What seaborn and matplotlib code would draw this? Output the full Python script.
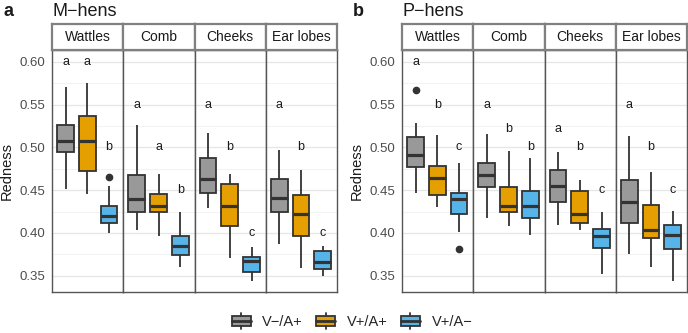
import seaborn as sns
import pandas as pd
import matplotlib.pyplot as plt
import numpy as np
from matplotlib.patches import Rectangle
from matplotlib.lines import Line2D
from matplotlib.legend_handler import HandlerBase
from matplotlib.ticker import MultipleLocator


sns.set_theme(style='white', rc={'axes.edgecolor': '#555555'})
plt.rcParams['font.family'] = ['Liberation Sans', 'DejaVu Sans']


groups = ['V\u2212/A+', 'V+/A+', 'V+/A\u2212']
colors = ['#999999', '#E69F00', '#56B4E9']
regions = ['Wattles', 'Comb', 'Cheeks', 'Ear lobes']
panels = ['M\u2212hens', 'P\u2212hens']

# five-number summaries, per panel -> region -> group
# order inside each list: Wattles x3, Comb x3, Cheeks x3, Ear lobes x3
m_lo  = [0.451, 0.445, 0.400, 0.403, 0.397, 0.360, 0.429, 0.371, 0.344, 0.387, 0.359, 0.350]
m_q1  = [0.495, 0.472, 0.412, 0.424, 0.424, 0.374, 0.447, 0.408, 0.354, 0.424, 0.396, 0.358]
m_med = [0.507, 0.507, 0.420, 0.440, 0.431, 0.385, 0.463, 0.431, 0.367, 0.441, 0.422, 0.366]
m_q3  = [0.526, 0.537, 0.432, 0.468, 0.445, 0.396, 0.488, 0.457, 0.372, 0.463, 0.444, 0.379]
m_hi  = [0.570, 0.575, 0.455, 0.526, 0.469, 0.424, 0.517, 0.469, 0.384, 0.497, 0.473, 0.385]

p_lo  = [0.447, 0.430, 0.401, 0.417, 0.408, 0.398, 0.409, 0.404, 0.352, 0.375, 0.360, 0.344]
p_q1  = [0.477, 0.444, 0.4225, 0.454, 0.424, 0.417, 0.436, 0.412, 0.382, 0.412, 0.394, 0.381]
p_med = [0.491, 0.464, 0.440, 0.468, 0.432, 0.431, 0.455, 0.422, 0.397, 0.436, 0.403, 0.398]
p_q3  = [0.512, 0.478, 0.447, 0.482, 0.454, 0.449, 0.474, 0.449, 0.405, 0.462, 0.433, 0.409]
p_hi  = [0.528, 0.514, 0.482, 0.515, 0.496, 0.488, 0.495, 0.462, 0.425, 0.513, 0.471, 0.426]

# outliers: (panel, region index, group index, value)
outliers = [(0, 0, 2, 0.465), (1, 0, 0, 0.567), (1, 0, 2, 0.381)]

# significance letters and their heights
m_letters = ['a', 'a', 'b', 'a', 'a', 'b', 'a', 'b', 'c', 'a', 'b', 'c']
m_let_y   = [0.60, 0.60, 0.50, 0.55, 0.50, 0.45, 0.55, 0.50, 0.40, 0.55, 0.50, 0.40]
p_letters = ['a', 'b', 'c', 'a', 'b', 'b', 'a', 'b', 'c', 'a', 'b', 'c']
p_let_y   = [0.60, 0.55, 0.50, 0.55, 0.521, 0.50, 0.521, 0.50, 0.45, 0.55, 0.50, 0.45]

summaries = [(m_lo, m_q1, m_med, m_q3, m_hi), (p_lo, p_q1, p_med, p_q3, p_hi)]
letters = [(m_letters, m_let_y), (p_letters, p_let_y)]

# build rows so that seaborn's quartiles reproduce the summaries
rows = []
for pi, summ in enumerate(summaries):
    lo, q1, med, q3, hi = summ
    for k in range(12):
        ri, gi = divmod(k, 3)
        vals = [lo[k], q1[k], q1[k], med[k], med[k], q3[k], q3[k], hi[k]]
        vals += [o[3] for o in outliers if o[0] == pi and o[1] == ri and o[2] == gi]
        for v in vals:
            rows.append({'panel': panels[pi], 'region': regions[ri], 'group': groups[gi], 'Redness': v})
data = pd.DataFrame(rows)


class BoxHandler(HandlerBase):
    def create_artists(self, legend, orig_handle, xdescent, ydescent, width, height, fontsize, trans):
        fc = orig_handle.get_facecolor()
        cx = width / 2 - xdescent
        y0 = -ydescent
        box = Rectangle((-xdescent, y0 + height * 0.12), width, height * 0.76, facecolor=fc,
                        edgecolor='#333333', lw=1.3, transform=trans)
        med = Line2D([-xdescent, width - xdescent], [y0 + height / 2] * 2, color='#333333', lw=2, transform=trans)
        w1 = Line2D([cx, cx], [y0 + height * 0.88, y0 + height * 1.15], color='#333333', lw=1.3, transform=trans)
        w2 = Line2D([cx, cx], [y0 - height * 0.15, y0 + height * 0.12], color='#333333', lw=1.3, transform=trans)
        return [box, med, w1, w2]


W, H = 688, 333
fig = plt.figure(figsize=(W / 100, H / 100), dpi=100)

panel_left = [52, 402]
facet_w = 71.25
ax_bottom, ax_top, strip_top = 292, 50, 24

for pi in range(2):
    sub_p = data[data['panel'] == panels[pi]]
    labs, laby = letters[pi]
    for ri, reg in enumerate(regions):
        x0 = panel_left[pi] + ri * facet_w
        ax = fig.add_axes([x0 / W, (H - ax_bottom) / H, facet_w / W, (ax_bottom - ax_top) / H])
        sub = sub_p[sub_p['region'] == reg]
        sns.boxplot(data=sub, x='group', y='Redness', hue='group', order=groups, hue_order=groups,
                    palette=colors, saturation=1, width=0.77, linewidth=1.3, linecolor='#333333',
                    legend=False, showcaps=False, ax=ax,
                    medianprops=dict(color='#333333', linewidth=2.3),
                    flierprops=dict(marker='o', markerfacecolor='#333333', markeredgecolor='#333333',
                                    markersize=4.5))
        for gi in range(3):
            k = ri * 3 + gi
            ax.text(gi, laby[k], labs[k], ha='center', va='center', fontsize=9, color='#1a1a1a')
        ax.set_xlim(-0.62, 2.65)
        ax.set_ylim(0.331, 0.6137)
        ax.yaxis.set_major_locator(MultipleLocator(0.05))
        ax.yaxis.set_minor_locator(MultipleLocator(0.025))
        ax.grid(axis='y', which='major', color='#e6e6e6', lw=0.9)
        ax.grid(axis='y', which='minor', color='#f0f0f0', lw=0.6)
        ax.set_axisbelow(True)
        ax.set_xticks([])
        ax.set_xlabel('')
        for s in ax.spines.values():
            s.set_color('#555555')
            s.set_linewidth(1.0)
        ax.tick_params(axis='y', which='minor', length=0)
        if ri == 0:
            ax.set_yticks([0.35, 0.40, 0.45, 0.50, 0.55, 0.60])
            ax.set_yticklabels([f'{v:.2f}' for v in [0.35, 0.40, 0.45, 0.50, 0.55, 0.60]])
            ax.tick_params(axis='y', which='major', length=3, color='#555555', labelsize=9.5,
                           labelcolor='#4d4d4d', pad=2)
            ax.set_ylabel('Redness', fontsize=10.5, color='#1a1a1a', labelpad=4)
        else:
            ax.tick_params(axis='y', which='major', length=0, labelleft=False)
            ax.set_ylabel('')

        # facet strip
        sax = fig.add_axes([x0 / W, (H - ax_top) / H, facet_w / W, (ax_top - strip_top) / H])
        sax.set_xticks([])
        sax.set_yticks([])
        sax.set_facecolor('white')
        for s in sax.spines.values():
            s.set_color('#808080')
            s.set_linewidth(1.6)
        sax.text(0.5, 0.5, reg, ha='center', va='center', fontsize=10, color='#1a1a1a',
                 transform=sax.transAxes)

    fig.text((panel_left[pi] - 49) / W, 1 - 11 / H, 'ab'[pi], fontsize=13, weight='bold',
             ha='left', va='center', color='#1a1a1a')
    fig.text(panel_left[pi] / W, 1 - 11 / H, panels[pi], fontsize=13, ha='left', va='center',
             color='#1a1a1a')

handles = [Rectangle((0, 0), 1, 1, facecolor=c) for c in colors]
fig.legend(handles, groups, handler_map={Rectangle: BoxHandler()}, loc='center',
           bbox_to_anchor=(352 / W, 1 - 322 / H), ncol=3, frameon=False, fontsize=10.5,
           handlelength=1.3, handleheight=0.9, handletextpad=0.8, columnspacing=0.9)

fig.savefig('out.png', dpi=100)
